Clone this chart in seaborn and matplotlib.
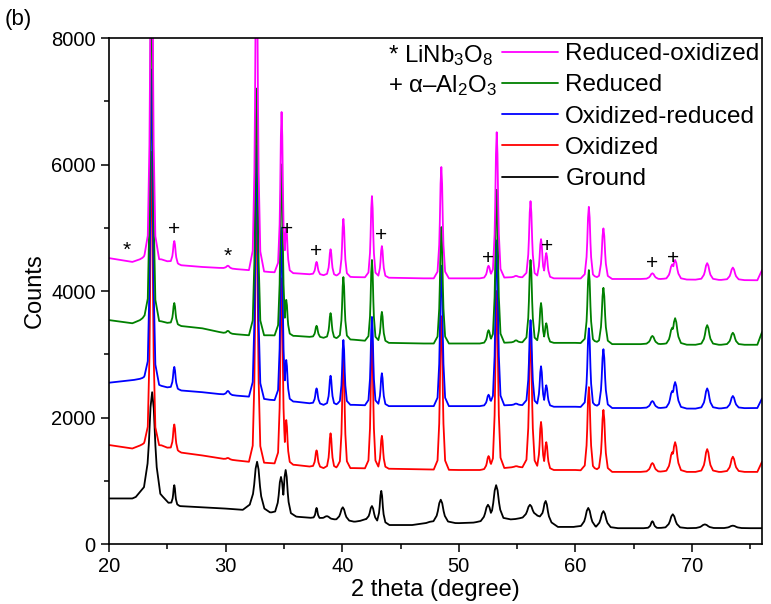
import numpy as np
import pandas as pd
import matplotlib
matplotlib.use("Agg")
import matplotlib.pyplot as plt
import seaborn as sns
from matplotlib.lines import Line2D
from matplotlib.ticker import MultipleLocator

# ---------------- data ----------------
series_names = ["Ground", "Oxidized", "Oxidized-reduced", "Reduced", "Reduced-oxidized"]
series_colors = ["#000000", "#FF0000", "#0000FF", "#008000", "#FF00FF"]

# Ground (black) - broad peaks
gr_base_x = [20, 22, 23.0, 24.6, 26, 28, 30, 31.5, 32.1, 33.8, 36.2, 38.3, 39.4, 41, 42, 44, 46,
             47.5, 50, 51.5, 54.5, 55.2, 56.7, 58.5, 60, 63, 66, 70, 76]
gr_base_y = [720, 720, 800, 680, 600, 580, 560, 540, 580, 490, 430, 400, 380, 350, 380, 300, 300,
             340, 330, 340, 390, 400, 440, 270, 270, 250, 250, 250, 250]
gr_peak_x = [23.7, 25.6, 32.7, 34.75, 35.15, 37.8, 38.7, 40.05, 42.55, 43.35, 48.45, 52.5, 53.2,
             56.1, 57.45, 61.1, 62.4, 66.6, 68.35, 71.1, 73.5]
gr_peak_y = [2400, 930, 1300, 1060, 1170, 570, 440, 580, 600, 840, 700, 620, 930,
             620, 680, 570, 520, 360, 470, 310, 290]
gr_peak_hw = [0.28, 0.1, 0.25, 0.2, 0.18, 0.1, 0.25, 0.22, 0.2, 0.14, 0.25, 0.25, 0.25,
              0.25, 0.2, 0.25, 0.25, 0.15, 0.25, 0.3, 0.3]

# peak positions shared by the four treated samples
ph_peak_x = [23.15, 23.65, 25.6, 30.2, 32.65, 34.8, 35.2, 37.8, 39.0, 40.1, 42.55, 43.4, 48.5,
             52.55, 53.25, 54.9, 56.15, 57.05, 57.5, 61.15, 62.4, 66.6, 68.3, 68.55, 71.3, 73.5]
ph_peak_hw = [0.2, 0.13, 0.12, 0.15, 0.13, 0.12, 0.12, 0.12, 0.12, 0.12, 0.12, 0.12, 0.13,
              0.15, 0.13, 0.15, 0.14, 0.13, 0.13, 0.14, 0.15, 0.2, 0.2, 0.2, 0.2, 0.2]
ph_base_x = [20, 22, 23.0, 24.5, 26, 28, 30, 32, 33.8, 36, 38.4, 41, 44, 47, 50, 52, 55, 58, 60,
             63, 66, 70, 75.6, 76]

ox_base_y = [1565, 1510, 1580, 1560, 1450, 1400, 1340, 1300, 1280, 1250, 1200, 1200, 1190, 1180,
             1170, 1170, 1220, 1170, 1170, 1140, 1140, 1140, 1140, 1300]
ox_peak_y = [1600, 6200, 1890, 1360, 5600, 4200, 1960, 1480, 1750, 3000, 3300, 1710, 3600,
             1390, 4000, 1230, 3300, 1930, 1610, 2480, 2120, 1280, 1450, 1610, 1500, 1380]

or_base_y = [2550, 2590, 2620, 2500, 2430, 2400, 2360, 2330, 2280, 2250, 2200, 2200, 2180, 2180,
             2180, 2180, 2200, 2170, 2170, 2150, 2150, 2140, 2150, 2300]
or_peak_y = [2640, 7500, 2800, 2420, 6300, 5000, 2910, 2460, 2660, 3225, 3590, 2700, 4400,
             2360, 4800, 2220, 3540, 2810, 2510, 3410, 3080, 2260, 2420, 2560, 2460, 2340]

re_base_y = [3540, 3490, 3560, 3520, 3450, 3410, 3330, 3300, 3300, 3290, 3260, 3230, 3180, 3170,
             3170, 3170, 3190, 3180, 3180, 3160, 3160, 3150, 3150, 3350]
re_peak_y = [3620, 9000, 3810, 3370, 7200, 6000, 3860, 3450, 3650, 4220, 4490, 3670, 5010,
             3380, 5600, 3220, 4490, 3810, 3490, 4330, 4050, 3290, 3420, 3570, 3460, 3340]

ro_base_y = [4520, 4460, 4520, 4500, 4410, 4380, 4360, 4330, 4300, 4280, 4250, 4220, 4210, 4200,
             4200, 4200, 4220, 4200, 4200, 4190, 4190, 4180, 4170, 4330]
ro_peak_y = [4560, 10500, 4790, 4400, 9500, 6830, 5000, 4460, 4660, 5140, 5500, 4710, 5960,
             4400, 6510, 4240, 5420, 4820, 4600, 5330, 4990, 4280, 4420, 4490, 4440, 4370]

# phase markers
mark_x = [21.5, 25.6, 30.2, 35.25, 37.8, 43.3, 52.55, 57.6, 66.6, 68.35]
mark_y = [4650, 4980, 4550, 4980, 4620, 4870, 4520, 4710, 4440, 4520]
mark_s = ["*", "+", "*", "+", "+", "+", "+", "+", "+", "+"]

# ---------------- build polylines (vertices at peak feet / flanks / tops) ----------------
SHAPE_OFF = np.array([-5, -2.5, -1.4, -1, -0.5, 0, 0.5, 1, 1.4, 2.5, 5])
SHAPE_FRAC = np.array([0, 0.06, 0.3, 0.5, 0.85, 1, 0.85, 0.5, 0.3, 0.06, 0])


def build(bx, by, px, py, pw):
    bx = np.asarray(bx, float)
    by = np.asarray(by, float)
    xs = [bx]
    for p, w in zip(px, pw):
        xs.append(p + SHAPE_OFF * w)
    xs = np.unique(np.clip(np.concatenate(xs), 20, 76))
    base = np.interp(xs, bx, by)
    y = base.copy()
    for p, h, w in zip(px, py, pw):
        rel = h - np.interp(p, bx, by)
        prof = np.interp(xs, p + SHAPE_OFF * w, SHAPE_FRAC, left=0, right=0) * rel
        y = np.maximum(y, base + prof)
    return xs, y


frames = []
specs = {
    "Ground": (gr_base_x, gr_base_y, gr_peak_x, gr_peak_y, gr_peak_hw),
    "Oxidized": (ph_base_x, ox_base_y, ph_peak_x, ox_peak_y, ph_peak_hw),
    "Oxidized-reduced": (ph_base_x, or_base_y, ph_peak_x, or_peak_y, ph_peak_hw),
    "Reduced": (ph_base_x, re_base_y, ph_peak_x, re_peak_y, ph_peak_hw),
    "Reduced-oxidized": (ph_base_x, ro_base_y, ph_peak_x, ro_peak_y, ph_peak_hw),
}
for name in series_names:
    x, y = build(*specs[name])
    frames.append(pd.DataFrame({"theta": x, "counts": y, "sample": name}))
df = pd.concat(frames, ignore_index=True)

# ---------------- plot ----------------
sns.set_style("ticks")
plt.rcParams["font.family"] = ["Liberation Sans", "DejaVu Sans"]
plt.rcParams["mathtext.fontset"] = "custom"
plt.rcParams["mathtext.rm"] = "Liberation Sans"
plt.rcParams["mathtext.it"] = "Liberation Sans:italic"
plt.rcParams["mathtext.default"] = "regular"
for k in ["text.color", "axes.labelcolor", "xtick.color", "ytick.color", "axes.edgecolor"]:
    plt.rcParams[k] = "black"

fig = plt.figure(figsize=(7.71, 6.04), dpi=100)
ax = fig.add_axes([109 / 771, 1 - 544 / 604, 653 / 771, 506 / 604])

palette = dict(zip(series_names, series_colors))
sns.lineplot(data=df, x="theta", y="counts", hue="sample", hue_order=series_names,
             palette=palette, estimator=None, sort=True, linewidth=1.3, legend=False, ax=ax)

ax.set_xlim(20, 76)
ax.set_ylim(0, 8000)
ax.xaxis.set_major_locator(MultipleLocator(10))
ax.xaxis.set_minor_locator(MultipleLocator(5))
ax.yaxis.set_major_locator(MultipleLocator(2000))
ax.yaxis.set_minor_locator(MultipleLocator(1000))
ax.tick_params(which="major", direction="out", length=6, width=1.1, labelsize=14.5, colors="black")
ax.tick_params(which="minor", direction="out", length=3.5, width=1.1, colors="black")
for sp in ax.spines.values():
    sp.set_visible(True)
    sp.set_linewidth(1.2)
    sp.set_color("black")
ax.set_xlabel("2 theta (degree)", fontsize=17, labelpad=2)
ax.set_ylabel("Counts", fontsize=17, labelpad=4)

for mx, my, ms in zip(mark_x, mark_y, mark_s):
    ax.text(mx, my, ms, ha="center", va="center", fontsize=15, color="black")

ax.text(0.427, 0.966, "* LiNb$_3$O$_8$", transform=ax.transAxes, ha="left", va="center", fontsize=17.3)
ax.text(0.427, 0.906, "+ α–Al$_2$O$_3$", transform=ax.transAxes, ha="left", va="center", fontsize=17.3)

handles = [Line2D([], [], color=palette[n], lw=1.3) for n in series_names[::-1]]
ax.legend(handles, series_names[::-1], loc="upper left", bbox_to_anchor=(0.602, 0.990),
          frameon=False, fontsize=17.5, handlelength=2.3, handletextpad=0.3,
          labelspacing=0.38, borderpad=0.0, borderaxespad=0.0)

fig.text(0.006, 0.985, "(b)", fontsize=16, ha="left", va="top")

fig.savefig("out.png", dpi=100)
